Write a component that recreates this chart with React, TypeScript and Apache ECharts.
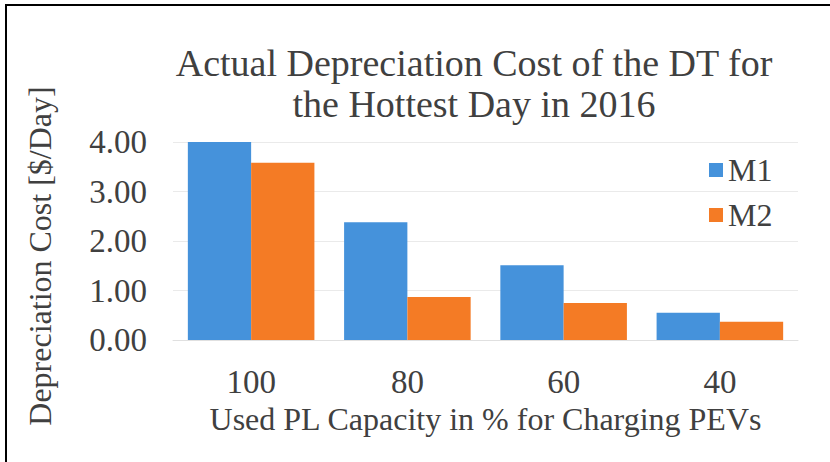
import React, { useEffect, useRef } from "react";
import * as echarts from "echarts";

const categories = ["100", "80", "60", "40"];
const m1Values = [4.0, 2.38, 1.51, 0.55];
const m2Values = [3.58, 0.87, 0.75, 0.37];
const seriesNames = ["M1", "M2"];
const titleText = "Actual Depreciation Cost of the DT for\nthe Hottest Day in 2016";
const yAxisName = "Depreciation Cost [$/Day]";
const xAxisName = "Used PL Capacity in % for Charging PEVs";

const FONT = "'Liberation Serif', 'Times New Roman', serif";
const TXT = "#404040";

export default function App() {
  const ref = useRef<HTMLDivElement>(null);
  useEffect(() => {
    const chart = echarts.init(ref.current!, undefined, { renderer: "svg" });
    chart.setOption({
      animation: false,
      backgroundColor: "#ffffff",
      textStyle: { fontFamily: FONT, color: TXT },
      title: {
        text: titleText,
        left: 469,
        textAlign: "center",
        top: 37,
        textStyle: { fontFamily: FONT, fontSize: 38, fontWeight: "normal", color: TXT, lineHeight: 41 },
      },
      legend: {
        orient: "vertical",
        left: 704,
        top: 149,
        itemWidth: 14,
        itemHeight: 14,
        itemGap: 13,
        icon: "rect",
        textStyle: { fontFamily: FONT, fontSize: 32, color: TXT },
        data: seriesNames,
      },
      grid: { left: 173, right: 32, top: 142, bottom: 122 },
      xAxis: {
        type: "category",
        data: categories,
        name: xAxisName,
        nameLocation: "middle",
        nameGap: 63,
        nameTextStyle: { fontFamily: FONT, fontSize: 32, color: TXT },
        axisLine: { lineStyle: { color: "#e0e0e0" } },
        axisTick: { show: false },
        axisLabel: { fontFamily: FONT, fontSize: 33, color: TXT, margin: 25 },
      },
      yAxis: {
        type: "value",
        min: 0,
        max: 4,
        interval: 1,
        axisLine: { show: false },
        axisTick: { show: false },
        splitLine: { lineStyle: { color: "#eaeaea" } },
        axisLabel: {
          fontFamily: FONT,
          fontSize: 33,
          color: TXT,
          margin: 26,
          formatter: (v: number) => v.toFixed(2),
        },
      },
      series: [
        {
          name: seriesNames[0],
          type: "bar",
          data: m1Values,
          barGap: "0%",
          barCategoryGap: "19%",
          itemStyle: { color: "#4592DB" },
        },
        {
          name: seriesNames[1],
          type: "bar",
          data: m2Values,
          barGap: "0%",
          barCategoryGap: "19%",
          itemStyle: { color: "#F47B25" },
        },
      ],
      graphic: [
        { type: "rect", left: 5, top: 4, shape: { width: 825, height: 2 }, style: { fill: "#000" } },
        { type: "rect", left: 5, top: 4, shape: { width: 2, height: 458 }, style: { fill: "#000" } },
        {
          type: "text",
          x: 40,
          y: 256,
          rotation: Math.PI / 2,
          style: {
            text: yAxisName,
            fontFamily: FONT,
            fontSize: 32,
            fill: TXT,
            align: "center",
            verticalAlign: "middle",
          },
        },
      ],
    });
    return () => chart.dispose();
  }, []);
  return <div ref={ref} style={{ width: 830, height: 462, position: "absolute", left: 0, top: 0 }} />;
}
